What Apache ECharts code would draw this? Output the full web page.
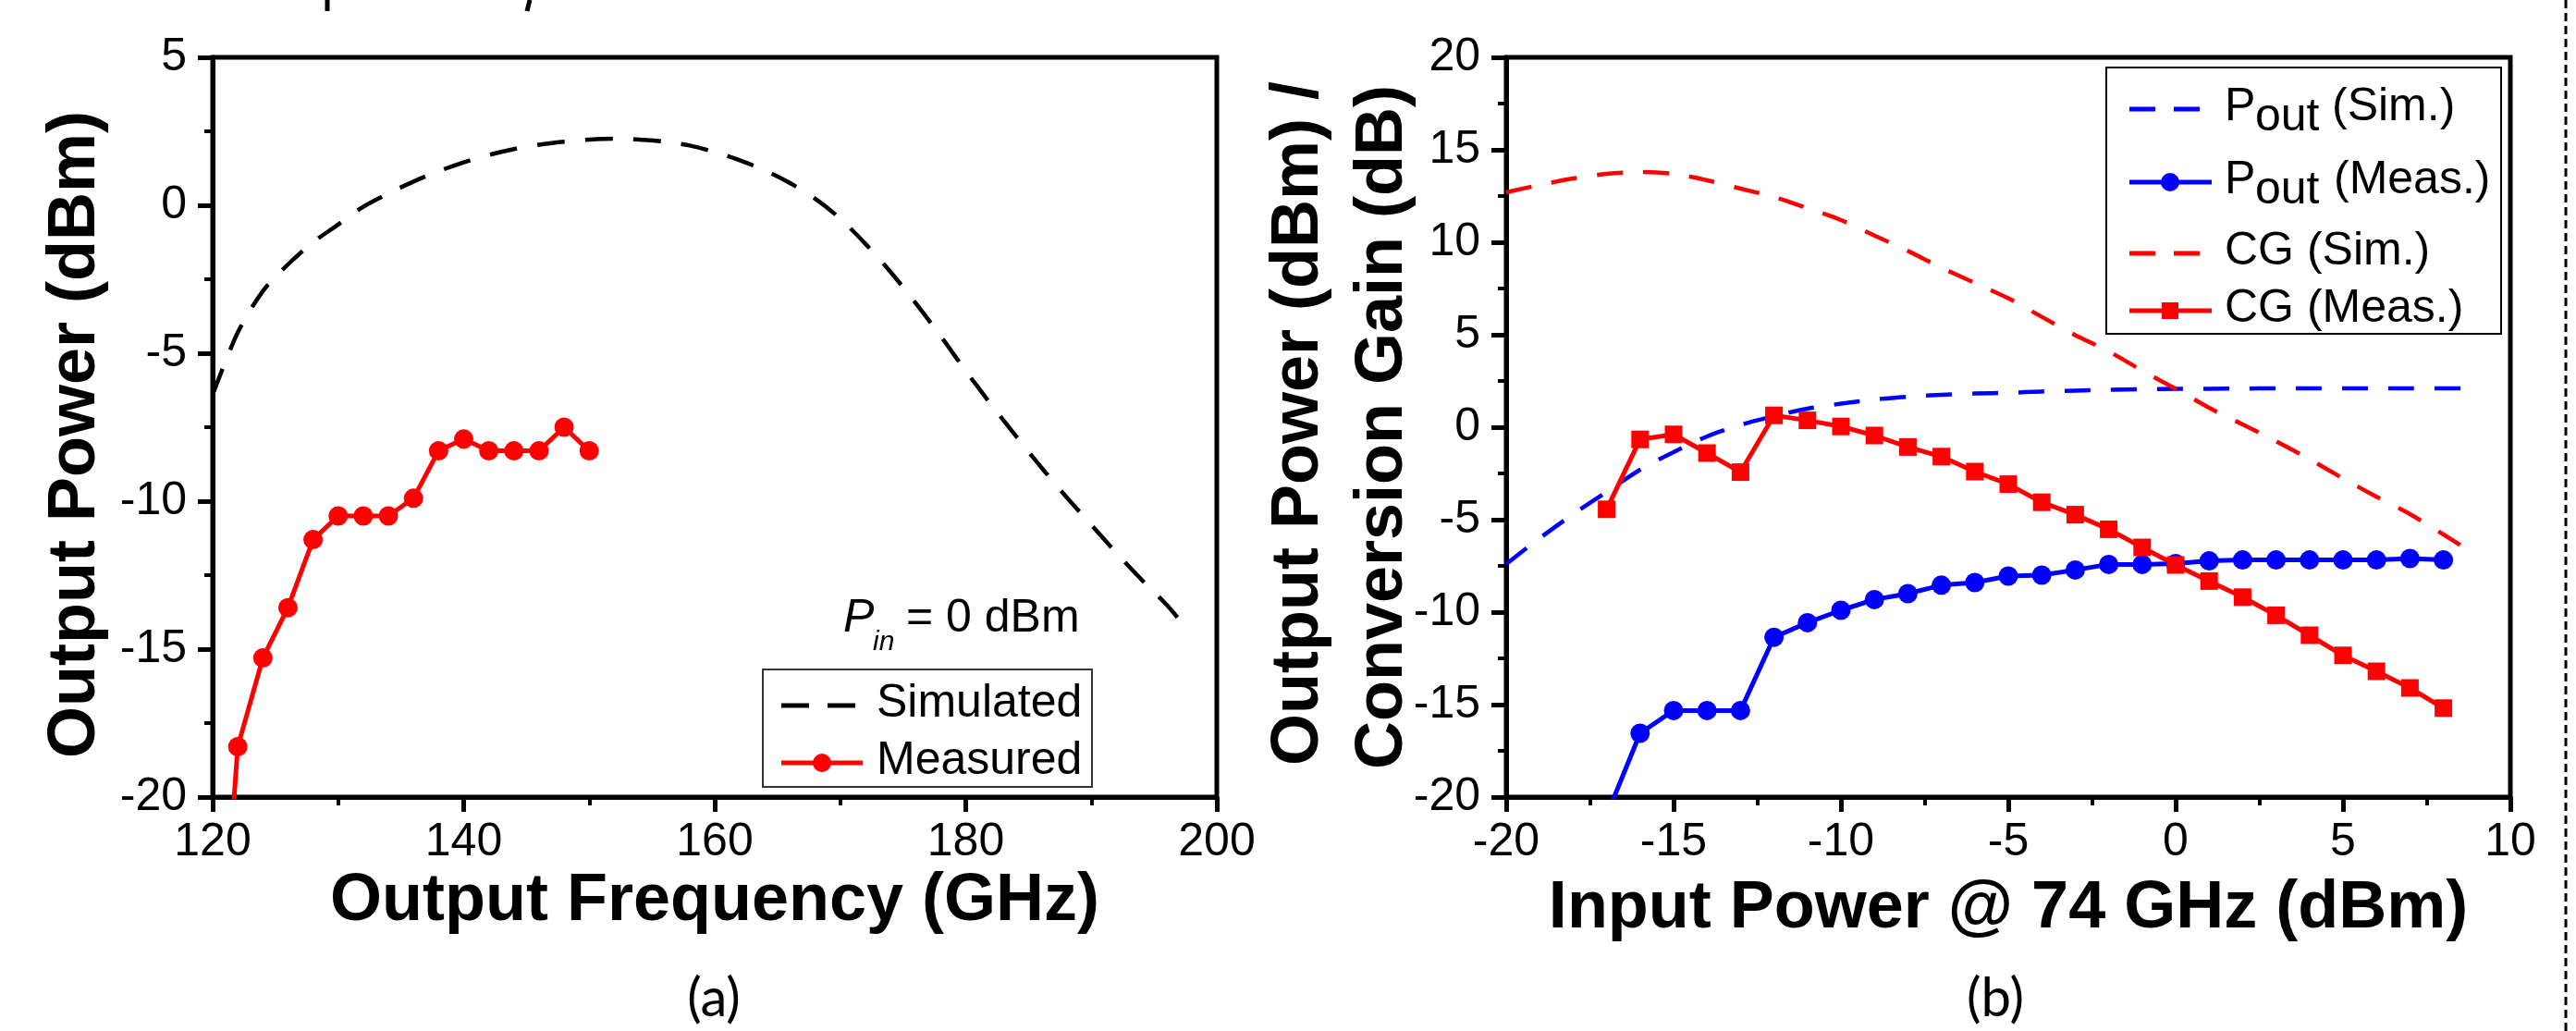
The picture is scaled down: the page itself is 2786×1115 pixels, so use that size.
<!DOCTYPE html>
<html><head><meta charset="utf-8">
<script src="https://cdn.jsdelivr.net/npm/echarts@6/dist/echarts.min.js"></script>
<style>html,body{margin:0;padding:0;background:#fff}#c{width:2786px;height:1115px}</style>
</head><body><div id="c"></div>
<script>
// ---- Panel (a): output power vs output frequency ----
const measFreqA = [120,122,124,126,128,130,132,134,136,138,140,142,144,146,148,150];
const measPowA  = [-30,-18.3,-15.3,-13.6,-11.3,-10.5,-10.5,-10.5,-9.9,-8.3,-7.9,-8.3,-8.3,-8.3,-7.5,-8.3];
const simFreqA  = [120,122,124,126,128,130,132,134,136,138,140,142,144,146,148,150,152,154,156,158,160,162,164,166,168,170,172,174,176,178,180,182,184,186,188,190,192,194,196,197];
const simPowA   = [-6.4,-4.3,-2.9,-2.0,-1.25,-0.65,-0.05,0.4,0.8,1.15,1.45,1.7,1.9,2.05,2.15,2.22,2.25,2.22,2.15,2.02,1.8,1.52,1.18,0.75,0.22,-0.45,-1.3,-2.25,-3.3,-4.42,-5.6,-6.72,-7.8,-8.85,-9.85,-10.8,-11.75,-12.65,-13.5,-14.0];

// ---- Panel (b): vs input power @ 74 GHz ----
const pinSimB   = [-20,-19,-18,-17,-16,-15,-14,-13,-12,-11,-10,-9,-8,-7,-6,-5,-4,-3,-2,-1,0,1,2,3,4,5,6,7,8,9];
const poutSimB  = [-7.4,-6.0,-4.7,-3.5,-2.3,-1.35,-0.5,0.12,0.6,1.0,1.27,1.5,1.65,1.75,1.82,1.86,1.93,1.98,2.02,2.05,2.07,2.08,2.09,2.1,2.1,2.1,2.1,2.1,2.1,2.1];
const cgSimB    = [12.7,13.1,13.45,13.7,13.8,13.7,13.35,12.9,12.45,11.84,11.2,10.36,9.53,8.63,7.8,6.97,5.97,4.98,4.1,3.06,2.07,1.05,0.15,-0.76,-1.73,-2.77,-3.76,-4.7,-5.8,-6.95];
const pinMeasB  = [-17,-16,-15,-14,-13,-12,-11,-10,-9,-8,-7,-6,-5,-4,-3,-2,-1,0,1,2,3,4,5,6,7,8];
const poutMeasB = [-21,-16.55,-15.32,-15.32,-15.32,-11.36,-10.57,-9.9,-9.32,-9.0,-8.54,-8.4,-8.05,-8.0,-7.72,-7.42,-7.42,-7.37,-7.23,-7.18,-7.18,-7.18,-7.18,-7.18,-7.1,-7.18];
const cgMeasB   = [-4.44,-0.66,-0.39,-1.4,-2.43,0.64,0.37,0.04,-0.45,-1.07,-1.59,-2.4,-3.08,-4.06,-4.73,-5.52,-6.5,-7.45,-8.32,-9.19,-10.17,-11.25,-12.34,-13.2,-14.1,-15.19];

const zip = (a, b) => a.map((v, i) => [v, b[i]]);
const FONT = 'Liberation Sans, Arial, sans-serif';

function axisCfg(gi, min, max, interval, margin) {
  return {
    type: 'value', gridIndex: gi, min, max, interval,
    axisLine: { show: true, onZero: false, lineStyle: { color: '#000', width: 5 } },
    axisTick: { show: true, inside: false, length: 16, lineStyle: { color: '#000', width: 5 } },
    minorTick: { show: true, splitNumber: 2, length: 9, lineStyle: { color: '#000', width: 4 } },
    splitLine: { show: false }, minorSplitLine: { show: false },
    axisLabel: { fontSize: 50, fontFamily: FONT, color: '#000', margin }
  };
}

const txt = (x, y, text, o = {}) => ({
  type: 'text', x, y, rotation: o.rotation || 0, z: 100,
  style: {
    text, fill: '#000', align: o.align || 'left', verticalAlign: o.va || 'middle',
    font: (o.style || 'normal') + ' ' + (o.weight || 'normal') + ' ' + (o.size || 50) + 'px ' + (o.family || FONT)
  }
});
const hline = (x1, x2, y, color, dash) => ({
  type: 'line', z: 100, shape: { x1, y1: y, x2, y2: y },
  style: { stroke: color, lineWidth: 5, lineDash: dash || null }
});

const graphics = [
  // clipped glyph fragments from the line above the figure
  { type: 'line', z: 100, shape: { x1: 354, y1: 0, x2: 354, y2: 12 }, style: { stroke: '#000', lineWidth: 5 } },
  { type: 'line', z: 100, shape: { x1: 573, y1: 0, x2: 570, y2: 12 }, style: { stroke: '#000', lineWidth: 5 } },
  // axis titles
  txt(773, 975, 'Output Frequency (GHz)', { align: 'center', weight: 'bold', size: 72 }),
  txt(2172, 983, 'Input Power @ 74 GHz (dBm)', { align: 'center', weight: 'bold', size: 72 }),
  txt(82, 470, 'Output Power (dBm)', { align: 'center', weight: 'bold', size: 72, rotation: Math.PI / 2 }),
  txt(1405, 458, 'Output Power (dBm) /', { align: 'center', weight: 'bold', size: 72, rotation: Math.PI / 2 }),
  txt(1496, 462, 'Conversion Gain (dB)', { align: 'center', weight: 'bold', size: 72, rotation: Math.PI / 2 }),
  // panel labels
  txt(772, 1080, '(a)', { align: 'center', size: 58, family: 'Lato, Open Sans, sans-serif' }),
  txt(2158, 1080, '(b)', { align: 'center', size: 58, family: 'Lato, Open Sans, sans-serif' }),
  // annotation P_in = 0 dBm
  txt(912, 669, 'P', { style: 'italic', size: 50 }),
  txt(944, 695, 'in', { style: 'italic', size: 30 }),
  txt(980, 669, '= 0 dBm', { size: 50 }),
  // legend (a)
  { type: 'rect', z: 99, shape: { x: 825, y: 724, width: 356, height: 127 }, style: { fill: '#fff', stroke: '#333', lineWidth: 2 } },
  hline(845, 933, 763, '#000', [30, 20]),
  txt(948, 761, 'Simulated', { size: 50 }),
  hline(845, 933, 825, '#ff0000'),
  { type: 'circle', z: 101, shape: { cx: 889, cy: 825, r: 10 }, style: { fill: '#ff0000' } },
  txt(948, 823, 'Measured', { size: 50 }),
  // legend (b)
  { type: 'rect', z: 99, shape: { x: 2278, y: 73, width: 427, height: 288 }, style: { fill: '#fff', stroke: '#000', lineWidth: 2 } },
  hline(2303, 2392, 118, '#0000ff', [28, 20]),
  txt(2406, 116, 'P', {}), txt(2439, 127, 'out', {}), txt(2522, 116, '(Sim.)', {}),
  hline(2303, 2392, 197, '#0000ff'),
  { type: 'circle', z: 101, shape: { cx: 2347, cy: 197, r: 10 }, style: { fill: '#0000ff' } },
  txt(2406, 195, 'P', {}), txt(2439, 206, 'out', {}), txt(2524, 195, '(Meas.)', {}),
  hline(2303, 2392, 274, '#ff0000', [28, 20]),
  txt(2406, 272, 'CG (Sim.)', {}),
  hline(2303, 2392, 336, '#ff0000'),
  { type: 'rect', z: 101, shape: { x: 2338, y: 327, width: 18, height: 18 }, style: { fill: '#ff0000' } },
  txt(2406, 334, 'CG (Meas.)', {}),
  // dashed divider at right
  { type: 'line', z: 100, shape: { x1: 2775, y1: 0, x2: 2775, y2: 1115 }, style: { stroke: '#000', lineWidth: 3, lineDash: [9, 5] } }
];

const chart = echarts.init(document.getElementById('c'), null, { renderer: 'canvas' });
chart.setOption({
  animation: false,
  backgroundColor: '#fff',
  grid: [
    { left: 230, top: 62, width: 1086, height: 800, show: true, borderColor: '#000', borderWidth: 5, backgroundColor: 'transparent' },
    { left: 1629, top: 62, width: 1086, height: 800, show: true, borderColor: '#000', borderWidth: 5, backgroundColor: 'transparent' }
  ],
  xAxis: [axisCfg(0, 120, 200, 20, 24), axisCfg(1, -20, 10, 5, 24)],
  yAxis: [axisCfg(0, -20, 5, 5, 28), axisCfg(1, -20, 20, 5, 28)],
  series: [
    { name: 'Simulated', type: 'line', xAxisIndex: 0, yAxisIndex: 0, data: zip(simFreqA, simPowA), smooth: 0.3, symbol: 'none',
      lineStyle: { color: '#000', width: 4.5, type: [30, 22] } },
    { name: 'Measured', type: 'line', xAxisIndex: 0, yAxisIndex: 0, data: zip(measFreqA, measPowA), symbol: 'circle', symbolSize: 21,
      lineStyle: { color: '#ff0000', width: 5 }, itemStyle: { color: '#ff0000' } },
    { name: 'Pout (Sim.)', type: 'line', xAxisIndex: 1, yAxisIndex: 1, data: zip(pinSimB, poutSimB), smooth: 0.3, symbol: 'none',
      lineStyle: { color: '#0000ff', width: 4.5, type: [28, 22] } },
    { name: 'CG (Sim.)', type: 'line', xAxisIndex: 1, yAxisIndex: 1, data: zip(pinSimB, cgSimB), smooth: 0.3, symbol: 'none',
      lineStyle: { color: '#ff0000', width: 4.5, type: [28, 22] } },
    { name: 'Pout (Meas.)', type: 'line', xAxisIndex: 1, yAxisIndex: 1, data: zip(pinMeasB, poutMeasB), symbol: 'circle', symbolSize: 21,
      lineStyle: { color: '#0000ff', width: 5 }, itemStyle: { color: '#0000ff' } },
    { name: 'CG (Meas.)', type: 'line', xAxisIndex: 1, yAxisIndex: 1, data: zip(pinMeasB, cgMeasB), symbol: 'rect', symbolSize: 19,
      lineStyle: { color: '#ff0000', width: 5 }, itemStyle: { color: '#ff0000' } }
  ],
  graphic: graphics
});
</script></body></html>
